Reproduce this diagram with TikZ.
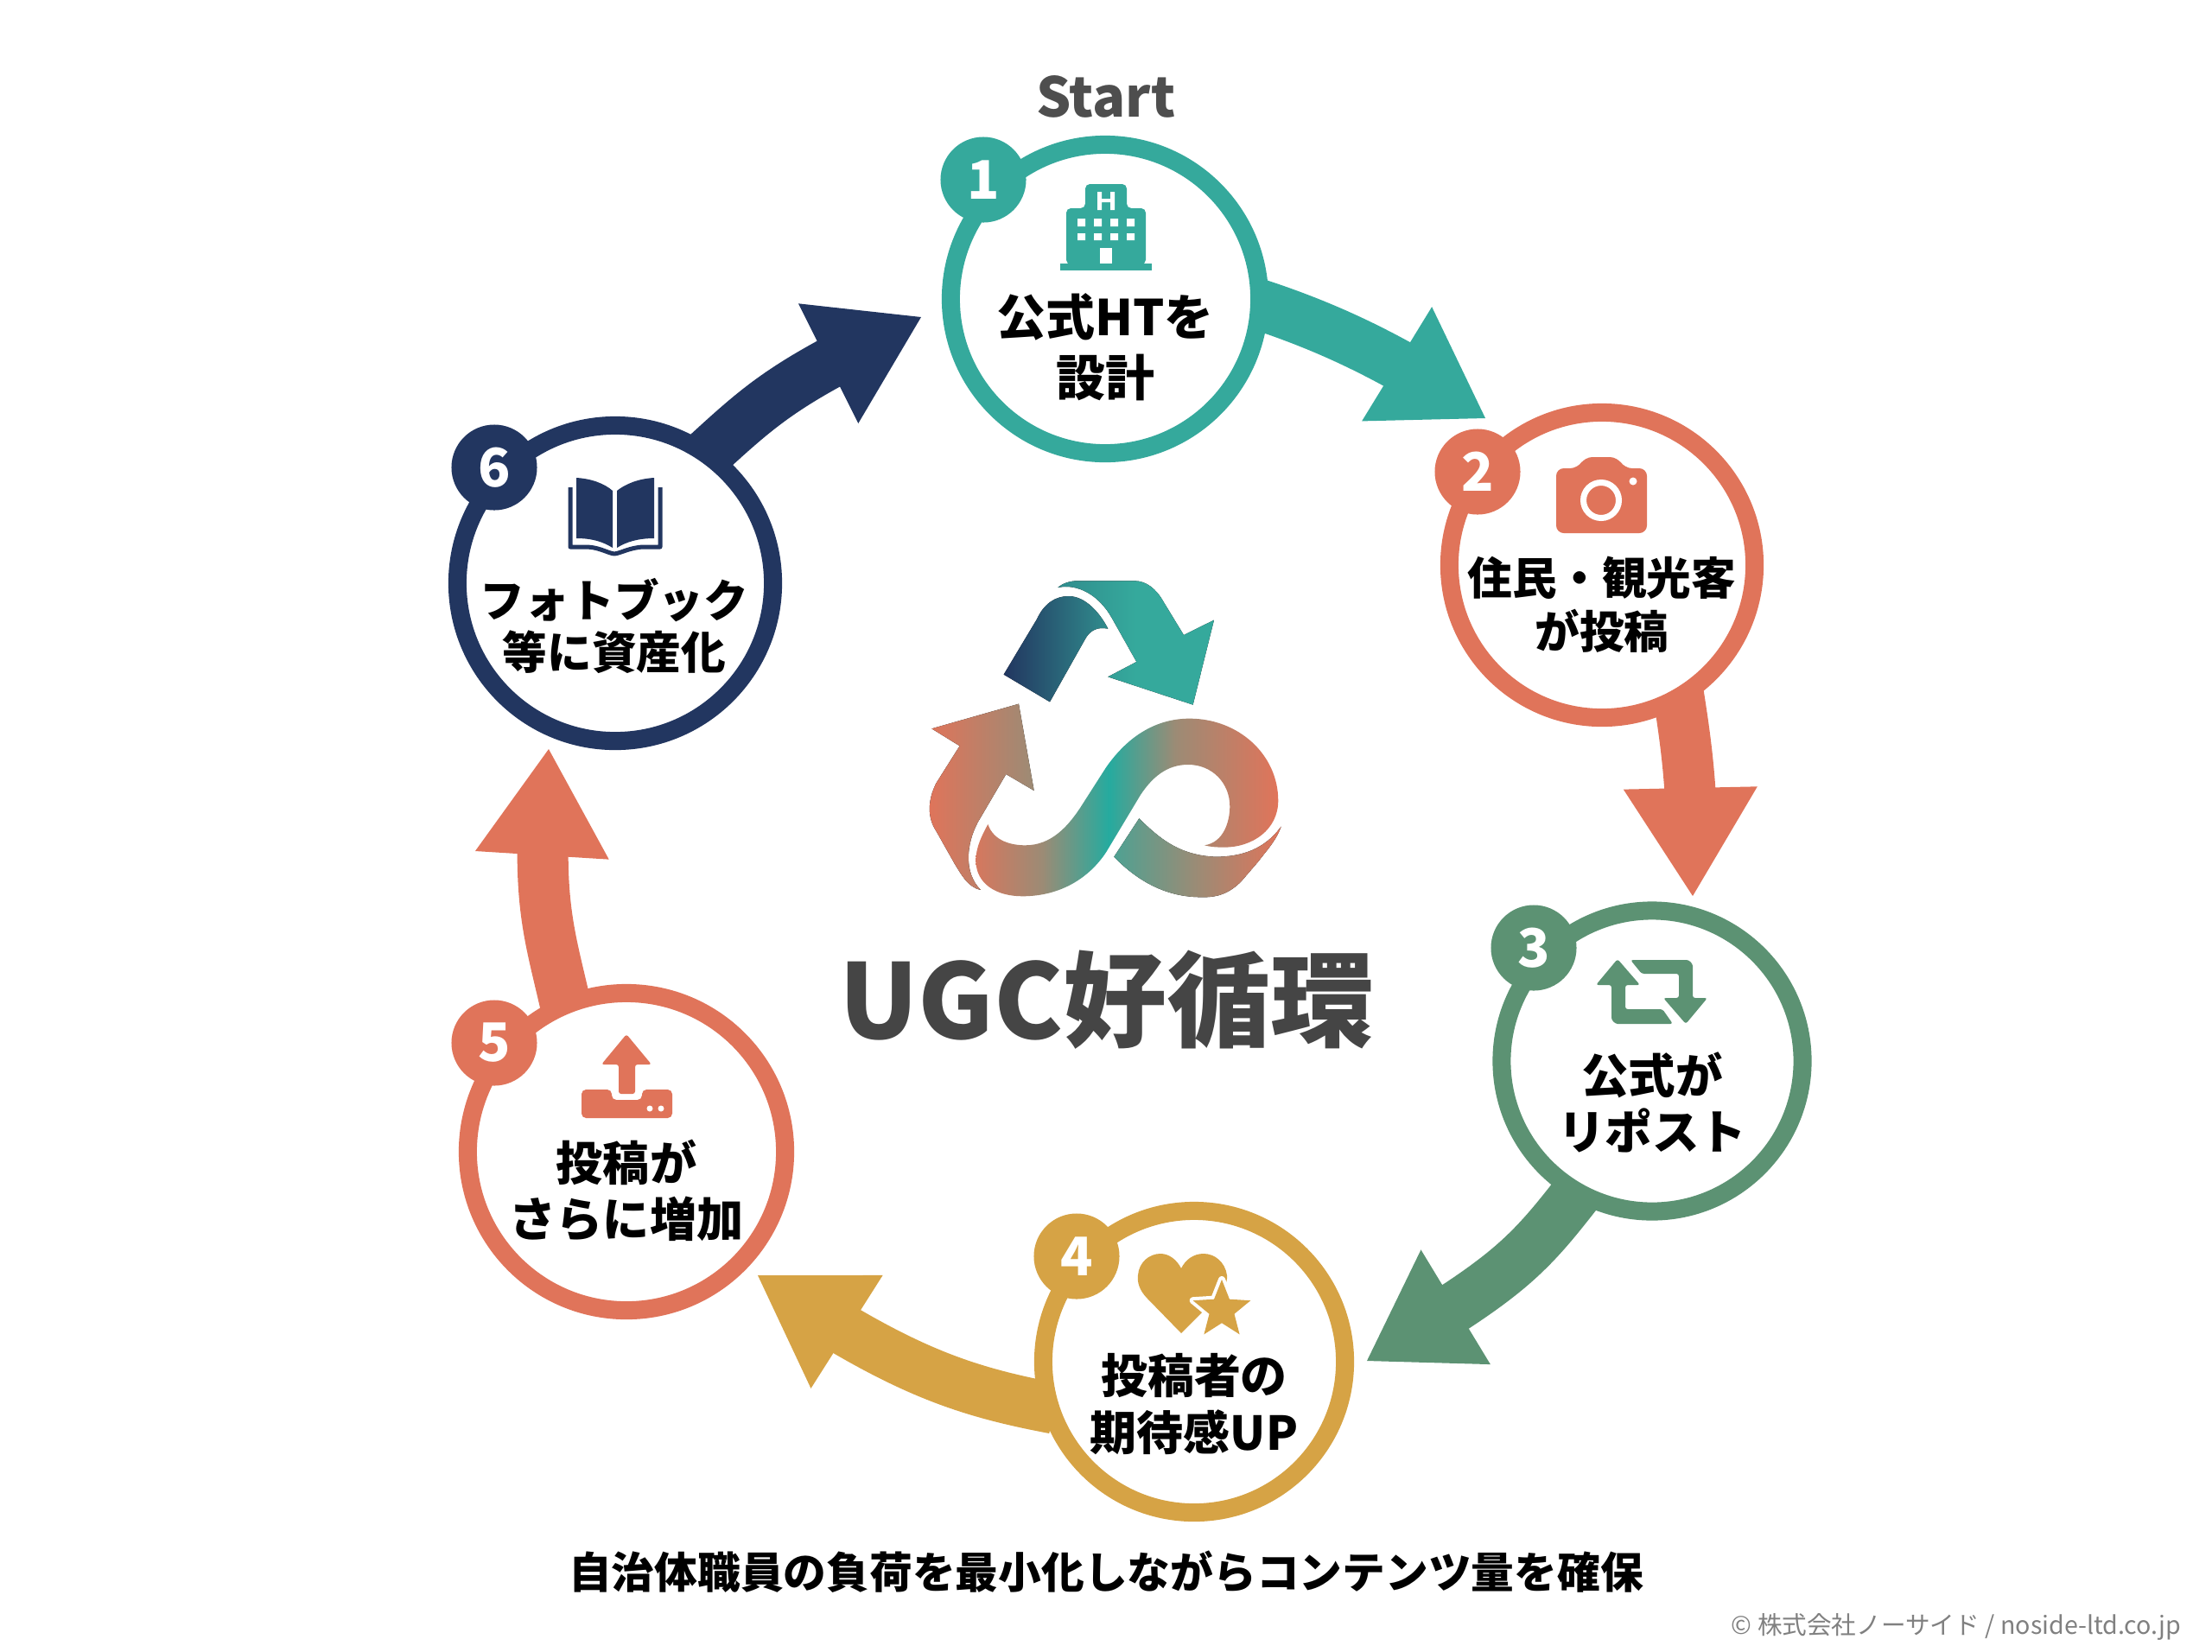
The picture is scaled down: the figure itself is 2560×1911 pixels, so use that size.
\documentclass[tikz,border=0pt]{standalone}
\usepackage{fontspec}
\setmainfont{Noto Sans CJK JP}
\newfontfamily\titlefont{Noto Sans CJK JP Black}
\usetikzlibrary{arrows.meta, bending, backgrounds, shapes.geometric}

\definecolor{teal1}{HTML}{35A99C}
\definecolor{coral1}{HTML}{E0745A}
\definecolor{green1}{HTML}{5C9273}
\definecolor{gold1}{HTML}{D6A345}
\definecolor{navy1}{HTML}{223660}
\definecolor{title1}{HTML}{454545}
\definecolor{olive1}{HTML}{9C8B75}
\definecolor{tealdeep}{HTML}{25AB9F}

\pgfdeclarehorizontalshading{ribbonshade}{100bp}{color(0bp)=(coral1!85!olive1); color(25bp)=(coral1!85!olive1); color(36bp)=(olive1); color(47bp)=(tealdeep); color(58bp)=(olive1); color(75bp)=(coral1); color(100bp)=(coral1)}

\tikzset{
  stepring/.style={circle, draw=#1, fill=white, line width=0.21cm, inner sep=0pt},
  badge/.style={circle, fill=#1, minimum size=0.99cm, inner sep=0pt, text=white, font=\bfseries\fontsize{17.5}{20}\selectfont},
  steptext/.style 2 args={font=\bfseries\fontsize{#1}{#2}\selectfont, align=center, text=black, inner sep=0pt},
  flowline/.style 2 args={draw=#1, line width=0.59cm, shorten <=-0.16cm, -{Triangle[length=#2, width=1.55cm, line width=0pt, #1]}},
}

\begin{document}
\begin{tikzpicture}[x=0.01cm, y=-0.01cm]
\useasboundingbox (0,0) rectangle (2560,1911);
% rings
\node[stepring=teal1, minimum size=3.57cm] (step1) at (1279,346) {};
\node[stepring=coral1, minimum size=3.53cm] (step2) at (1854,654) {};
\node[stepring=green1, minimum size=3.48cm] (step3) at (1912,1228) {};
\node[stepring=gold1, minimum size=3.49cm] (step4) at (1382,1576) {};
\node[stepring=coral1, minimum size=3.67cm] (step5) at (725,1333) {};
\node[stepring=navy1, minimum size=3.65cm] (step6) at (712,675) {};
% number badges
\node[badge=teal1] (badge1) at (1138,208) {1};
\node[badge=coral1] (badge2) at (1710,546) {2};
\node[badge=green1] (badge3) at (1775,1097) {3};
\node[badge=gold1] (badge4) at (1246,1454) {4};
\node[badge=coral1] (badge5) at (572,1207) {5};
\node[badge=navy1] (badge6) at (572,541) {6};
% arrow ends
\coordinate (tip1) at (1719,484);
\coordinate (tip2) at (1959,1037);
\coordinate (tip3) at (1582,1575);
\coordinate (tip4) at (877,1476);
\coordinate (tip5) at (635,867);
\coordinate (tip6) at (1066,367);
\begin{pgfonlayer}{background}
\draw[flowline={teal1}{1.2cm}] (step1.-3) .. controls (1551,383) and (1636,428) .. (tip1);
\draw[flowline={coral1}{1.25cm}] (step2.-61) .. controls (1953,870) and (1960,930) .. (tip2);
\draw[flowline={green1}{1.2cm}] (step3.240) .. controls (1769,1453) and (1745,1480) .. (tip3);
\draw[flowline={gold1}{1.22cm}] (step4.196) .. controls (1109,1609) and (1035,1582) .. (tip4);
\draw[flowline={coral1}{1.23cm}] (step5.112) .. controls (636,1080) and (618,1040) .. (tip5);
\draw[flowline={navy1}{1.2cm}] (step6.54) .. controls (885,464) and (913,440) .. (tip6);
\end{pgfonlayer}
% step texts
\node[steptext={16.2}{19.9}] (label1) at (1279,402) {公式HTを\\設計};
\node[steptext={14.7}{17.6}] (label2) at (1854,700) {住民・観光客\\が投稿};
\node[steptext={15.5}{18.5}] (label3) at (1912,1276) {公式が\\リポスト};
\node[steptext={15.35}{18.9}] (label4) at (1382,1625) {投稿者の\\期待感UP};
\node[steptext={15.4}{18.5}] (label5) at (725,1378) {投稿が\\さらに増加};
\node[steptext={14.7}{17.1}] (label6) at (711,724) {フォトブック\\等に資産化};
% building
\fill[teal1] (1227,305) rectangle (1333,313);
\fill[teal1, rounded corners=1.5] (1234,306) -- (1234,241) -- (1256,241) -- (1256,213) -- (1304,213) -- (1304,241) -- (1326,241) -- (1326,306) -- cycle;
\fill[white] (1270,222) rectangle (1275,243) (1285,222) rectangle (1290,243) (1270,230) rectangle (1290,234);
\fill[white] (1247,253) rectangle (1256,262) (1266,253) rectangle (1275,262) (1285,253) rectangle (1294,262) (1304,253) rectangle (1313,262);
\fill[white] (1247,270) rectangle (1256,278) (1266,270) rectangle (1275,278) (1285,270) rectangle (1294,278) (1304,270) rectangle (1313,278);
\fill[white] (1273,287) rectangle (1287,305);
% camera
\fill[coral1, rounded corners=2.5] (1801,542) -- (1826,542) -- (1834,529) -- (1872,529) -- (1880,542) -- (1906,542) -- (1906,617) -- (1801,617) -- cycle;
\draw[white, line width=0.07cm] (1853,579) circle (20.5);
\fill[white] (1890,557) circle (4.5);
% repost
\fill[green1, rounded corners=0.8] (1872,1110) -- (1898,1140) -- (1881,1140) -- (1881,1168) -- (1924,1168) -- (1936,1185) -- (1875,1185) .. controls (1869,1185) and (1865,1181) .. (1865,1175) -- (1865,1140) -- (1847,1140) -- cycle;
\fill[green1, rounded corners=0.8] (1887,1111) -- (1949,1111) .. controls (1955,1111) and (1959,1115) .. (1959,1121) -- (1959,1155) -- (1976,1155) -- (1951,1185) -- (1925,1155) -- (1943,1155) -- (1943,1127) -- (1900,1127) -- cycle;
% heart and star
\fill[gold1] (1367,1543) -- (1328,1503) .. controls (1318,1493) and (1316,1483) .. (1317,1476) .. controls (1318,1461) and (1330,1451) .. (1343,1451) .. controls (1353,1451) and (1362,1458) .. (1367,1468) .. controls (1372,1458) and (1381,1451) .. (1393,1451) .. controls (1406,1451) and (1418,1461) .. (1420,1476) .. controls (1421,1485) and (1415,1495) .. (1405,1505) -- cycle;
\node[star, star points=5, star point ratio=2.3, fill=white, draw=white, line width=0.08cm, line join=round, inner sep=0pt, minimum size=0.7cm] (starhalo) at (1414,1516) {};
\node[star, star points=5, star point ratio=2.3, fill=gold1, inner sep=0pt, minimum size=0.7cm] (heartstar) at (1414,1516) {};
% upload
\fill[coral1, rounded corners=1.5] (673,1261) -- (708,1261) -- (708,1273) -- (743,1273) -- (743,1261) -- (778,1261) -- (778,1294) -- (673,1294) -- cycle;
\fill[coral1, rounded corners=0.8] (725,1197) -- (754,1232) -- (735,1232) -- (735,1266) -- (716,1266) -- (716,1232) -- (696,1232) -- cycle;
\fill[white] (752,1283) circle (3.5) (765,1283) circle (3.5);
% book
\fill[navy1] (667,553) .. controls (685,554) and (700,560) .. (709,568) -- (709,634) .. controls (698,627) and (685,623) .. (667,623) -- cycle;
\fill[navy1] (757,553) .. controls (739,554) and (724,560) .. (714,568) -- (714,634) .. controls (725,627) and (739,623) .. (757,623) -- cycle;
\draw[navy1, line width=0.05cm, line join=round] (660,564) -- (660,633) -- (680,633) .. controls (695,634) and (703,640) .. (711,641) .. controls (719,640) and (728,634) .. (744,633) -- (764,633) -- (764,564);
% logo
\begin{scope}[shift={(1040,640)}, scale=0.3333]
\fill[left color=teal1!75!navy1, right color=teal1, middle color=teal1] (553,120) .. controls (570,105) and (595,97) .. (620,97) -- (820,97) .. controls (860,97) and (895,125) .. (920,170) -- (990,285) -- (1095,233) -- (1022,527) -- (727,430) -- (826,378) -- (740,225) .. controls (695,145) and (620,105) .. cycle;
\fill[left color=navy1, right color=teal1!75!navy1] (365,422) -- (480,230) .. controls (505,175) and (545,150) .. (590,150) .. controls (650,150) and (700,210) .. (727,263) .. controls (690,255) and (665,270) .. (650,295) -- (525,517) -- cycle;
\fill[left color=coral1, right color=olive1] (115,610) -- (417,524) -- (470,825) -- (373,768) -- (275,935) .. controls (235,1010) and (225,1110) .. (285,1170) .. controls (240,1160) and (220,1120) .. (195,1080) -- (130,965) .. controls (100,920) and (100,860) .. (130,800) -- (212,670) -- cycle;
\shade[shading=ribbonshade] (310,942) .. controls (330,1000) and (390,1015) .. (440,1015) .. controls (530,1015) and (590,950) .. (640,870) -- (720,745) .. controls (800,630) and (900,575) .. (1010,575) .. controls (1180,575) and (1318,700) .. (1318,860) .. controls (1318,960) and (1230,1022) .. (1130,1022) .. controls (1100,1022) and (1080,1020) .. (1062,1015) .. controls (1130,1005) and (1150,930) .. (1150,880) .. controls (1150,800) and (1090,735) .. (1005,735) .. controls (930,735) and (880,780) .. (840,840) -- (720,1040) .. controls (660,1130) and (560,1192) .. (430,1192) .. controls (340,1192) and (270,1150) .. (268,1070) .. controls (268,1020) and (290,980) .. cycle;
\fill[left color=teal1!85!coral1, right color=coral1, middle color=olive1] (835,922) .. controls (900,985) and (970,1050) .. (1100,1055) .. controls (1190,1055) and (1270,1030) .. (1328,950) .. controls (1310,1000) and (1280,1030) .. (1250,1070) -- (1190,1140) .. controls (1150,1180) and (1110,1197) .. (1050,1195) .. controls (930,1195) and (830,1140) .. (748,1055) -- cycle;
\end{scope}
% other texts
\node[font=\bfseries\fontsize{18}{22}\selectfont, text=title1!95!white, inner sep=0pt] (starttext) at (1280,112) {Start};
\node[font=\titlefont\fontsize{34.1}{38}\selectfont, text=title1, inner sep=0pt] (titletext) at (1281,1157) {UGC好循環};
\node[font=\bfseries\fontsize{14.15}{17}\selectfont, text=black, inner sep=0pt] (subtext) at (1280,1819) {自治体職員の負荷を最小化しながらコンテンツ量を確保};
\node[font=\fontsize{8.14}{9}\selectfont, text=gray, anchor=east, inner sep=0pt] (credit) at (2525,1883) {© 株式会社ノーサイド / noside-ltd.co.jp};
\end{tikzpicture}
\end{document}
